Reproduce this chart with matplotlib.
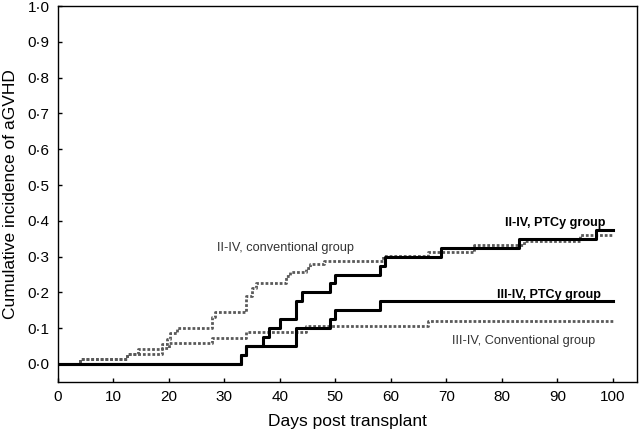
import matplotlib.pyplot as plt
from matplotlib.ticker import FixedLocator

plt.rcParams['font.family'] = ['Liberation Sans', 'DejaVu Sans']

# step curves (day, cumulative incidence)
ptcy_2_4_days = [0, 33, 34, 37, 38, 40, 43, 44, 49, 50, 58, 59, 69, 83, 97, 100]
ptcy_2_4_vals = [0, 0.025, 0.05, 0.075, 0.1, 0.125, 0.175, 0.2, 0.225, 0.25, 0.275, 0.3, 0.325, 0.35, 0.375, 0.375]

ptcy_3_4_days = [0, 33, 34, 43, 49, 50, 58, 100]
ptcy_3_4_vals = [0, 0.025, 0.05, 0.1, 0.125, 0.15, 0.175, 0.175]

conv_2_4_days = [0, 4, 12.5, 14.5, 18.7, 19.6, 20.2, 21.4, 27.7, 28.3, 34, 35, 35.8,
                 41.2, 41.8, 44.8, 45.4, 48, 58.6, 66.7, 75, 84, 94, 100]
conv_2_4_vals = [0, 0.014, 0.027, 0.041, 0.056, 0.071, 0.086, 0.101, 0.131, 0.146, 0.19, 0.213, 0.227,
                 0.246, 0.256, 0.269, 0.279, 0.288, 0.302, 0.313, 0.332, 0.345, 0.36, 0.36]

conv_3_4_days = [0, 4, 12.5, 18.7, 20, 27.7, 34, 44.8, 66.7, 100]
conv_3_4_vals = [0, 0.014, 0.029, 0.044, 0.06, 0.074, 0.089, 0.105, 0.119, 0.119]

x_ticks = [0, 10, 20, 30, 40, 50, 60, 70, 80, 90, 100]
y_ticks = [0.0, 0.1, 0.2, 0.3, 0.4, 0.5, 0.6, 0.7, 0.8, 0.9, 1.0]
y_tick_labels = ['0·0', '0·1', '0·2', '0·3', '0·4', '0·5', '0·6', '0·7', '0·8', '0·9', '1·0']

fig = plt.figure(figsize=(6.42, 4.32), dpi=100)
ax = fig.add_axes([0.0899, 0.116, 0.902, 0.870])

dot = (0, (1.0, 0.7))
ax.step(conv_2_4_days, conv_2_4_vals, where='post', color='0.35', lw=2.0, linestyle=dot)
ax.step(conv_3_4_days, conv_3_4_vals, where='post', color='0.35', lw=2.0, linestyle=dot)
ax.step(ptcy_2_4_days, ptcy_2_4_vals, where='post', color='black', lw=2.2)
ax.step(ptcy_3_4_days, ptcy_3_4_vals, where='post', color='black', lw=2.2)

ax.set_xlim(0, 104.3)
ax.set_ylim(-0.05, 1.0)
ax.xaxis.set_major_locator(FixedLocator(x_ticks))
ax.set_yticks(y_ticks)
ax.set_yticklabels(y_tick_labels)
ax.tick_params(axis='both', direction='in', length=3, width=1, labelsize=11, pad=6, color='black')
for s in ax.spines.values():
    s.set_linewidth(1.0)

ax.set_xlabel('Days post transplant', fontsize=12.5, labelpad=7)
ax.set_ylabel('Cumulative incidence of aGVHD', fontsize=12.5, labelpad=7)

ax.text(28.6, 0.325, 'II-IV, conventional group', fontsize=9.2, color='#333333', va='center')
ax.text(98.6, 0.395, 'II-IV, PTCy group', fontsize=9.1, fontweight='bold', ha='right', va='center')
ax.text(97.8, 0.193, 'III-IV, PTCy group', fontsize=9.1, fontweight='bold', ha='right', va='center')
ax.text(71.1, 0.064, 'III-IV, Conventional group', fontsize=9.2, color='#333333', va='center')

plt.savefig('out.png', dpi=100)
